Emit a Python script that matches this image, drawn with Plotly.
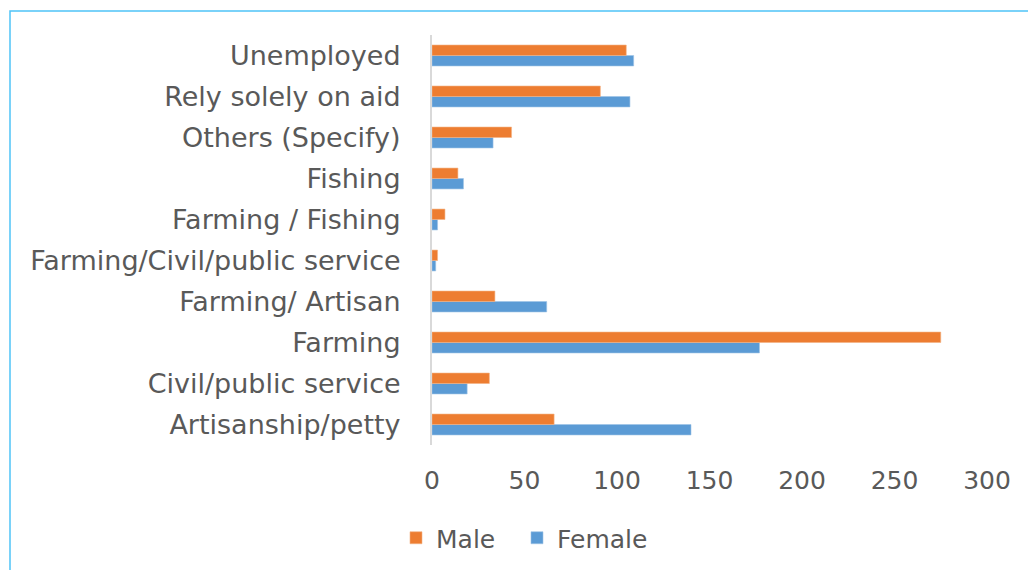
import plotly.graph_objects as go

# Occupation categories, listed from the bottom of the chart to the top
categories = [
    "Artisanship/petty",
    "Civil/public service",
    "Farming",
    "Farming/ Artisan",
    "Farming/Civil/public service",
    "Farming / Fishing",
    "Fishing",
    "Others (Specify)",
    "Rely solely on aid",
    "Unemployed",
]
male = [66, 31, 275, 34, 3, 7, 14, 43, 91, 105]
female = [140, 19, 177, 62, 2, 3, 17, 33, 107, 109]
x_ticks = [0, 50, 100, 150, 200, 250, 300]

FONT = "DejaVu Sans"
TEXT = "#595959"

W, H = 1028, 570
ML, MR, MT, MB = 432, 41, 35, 125
PW, PH = W - ML - MR, H - MT - MB


def px_x(p):
    return (p - ML) / PW


def px_y(p):
    return (H - MB - p) / PH


fig = go.Figure()
# Female first so it sits below Male within each group
fig.add_trace(go.Bar(
    y=categories, x=female, name="Female", orientation="h", legend="legend2",
    marker=dict(color="#5B9BD5", line=dict(color="#9DC3E6", width=0.6)),
))
fig.add_trace(go.Bar(
    y=categories, x=male, name="Male", orientation="h", legend="legend",
    marker=dict(color="#ED7D31", line=dict(color="#F4B183", width=0.6)),
))

# Light blue frame around the chart
fig.add_shape(
    type="rect", xref="paper", yref="paper",
    x0=px_x(10), x1=px_x(1060), y0=px_y(600), y1=px_y(11),
    line=dict(color="#4FC3F7", width=1.5), fillcolor="rgba(0,0,0,0)",
)

legend_style = dict(
    orientation="h", xanchor="left", yanchor="top", y=px_y(515),
    font=dict(family=FONT, size=25, color=TEXT),
    itemwidth=30, bgcolor="rgba(0,0,0,0)",
)

fig.update_layout(
    width=W, height=H,
    margin=dict(l=ML, r=MR, t=MT, b=MB, autoexpand=False),
    paper_bgcolor="white", plot_bgcolor="white",
    barmode="group", bargap=0.49, bargroupgap=0,
    font=dict(family=FONT, size=25, color=TEXT),
    showlegend=True,
    legend=dict(x=px_x(396), **legend_style),
    legend2=dict(x=px_x(517), **legend_style),
    xaxis=dict(
        range=[0, 300], tickvals=x_ticks, showgrid=False, zeroline=False,
        showline=False, ticks="", ticklabelstandoff=18,
        tickfont=dict(family=FONT, size=25, color=TEXT),
    ),
    yaxis=dict(
        categoryorder="array", categoryarray=categories,
        showgrid=False, zeroline=False, showline=True,
        linecolor="#D9D9D9", linewidth=2, ticks="", ticklabelstandoff=24,
        tickfont=dict(family=FONT, size=27, color=TEXT),
    ),
)

fig.write_html("out.html")
